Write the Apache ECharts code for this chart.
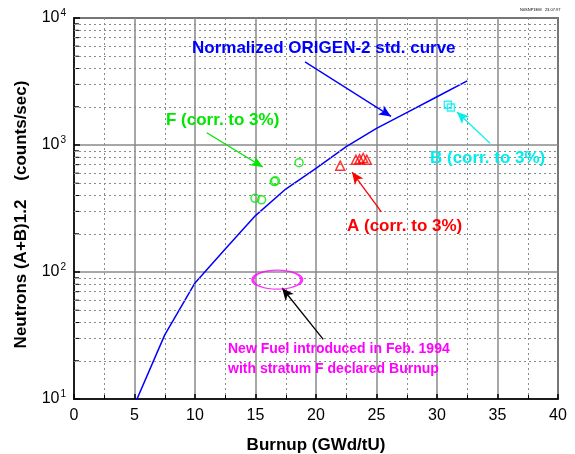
<!DOCTYPE html>
<html><head><meta charset="utf-8">
<script src="https://cdn.jsdelivr.net/npm/echarts@6/dist/echarts.min.js"></script>
<style>html,body{margin:0;padding:0;background:#fff}#c{width:575px;height:454px}</style>
</head><body><div id="c"></div>
<script>
// ---- data ----
const curveX = [5, 7.5, 10, 12.5, 15, 17.5, 20, 22.5, 25, 27.5, 30, 32.5];
const curveY = [9, 32, 82, 152, 278, 450, 655, 970, 1350, 1800, 2400, 3200];
const fX = [14.96, 15.5, 16.55, 16.65, 18.6];
const fY = [380, 370, 515, 522, 726];
const aX = [22.0, 23.3, 23.6, 23.9, 24.2];
const aY = [687, 765, 775, 790, 765];
const bX = [30.9, 31.15];
const bY = [2070, 1970];
const ellipseCenter = [16.8, 87];
const xTicks = [0, 5, 10, 15, 20, 25, 30, 35, 40];
const yDecades = [10, 100, 1000, 10000];
const yMinor = [20,30,40,50,60,70,80,90,200,300,400,500,600,700,800,900,2000,3000,4000,5000,6000,7000,8000,9000];

const FONT = '"Liberation Sans", Arial, sans-serif';
const BLUE = '#0000ff', GREEN = '#00e600', RED = '#ff0000', CYAN = '#00eeee', MAG = '#ff00ff';

const zip = (xs, ys) => xs.map((x, i) => [x, ys[i]]);

function arrow(from, to, color) {
  return [{coord: from, lineStyle: {color: color, width: 1.3, type: 'solid'}, itemStyle: {color: color}}, {coord: to}];
}

const chart = echarts.init(document.getElementById('c'), null, {renderer: 'canvas'});
const option = {
  animation: false,
  backgroundColor: '#fff',
  grid: {left: 74, right: 17, top: 18, bottom: 55, show: true, borderColor: '#000', borderWidth: 1.5,
         containLabel: false, outerBoundsMode: 'none'},
  xAxis: {
    type: 'value', min: xTicks[0], max: xTicks[xTicks.length - 1], interval: 5,
    name: 'Burnup (GWd/tU)', nameLocation: 'middle', nameGap: 38,
    nameTextStyle: {fontFamily: FONT, fontWeight: 'bold', fontSize: 17, color: '#000'},
    axisLine: {lineStyle: {color: '#000', width: 1.5}},
    axisTick: {inside: true, length: 5, lineStyle: {color: '#000', width: 1.5}},
    minorTick: {show: true, splitNumber: 2, length: 4, lineStyle: {color: '#000', width: 1}},
    axisLabel: {fontFamily: FONT, fontSize: 16, color: '#000', margin: 9},
    splitLine: {show: true, lineStyle: {color: '#8a8a8a', width: 1.5}},
    minorSplitLine: {show: true, lineStyle: {color: '#8a8a8a', width: 1, type: [2, 3]}}
  },
  yAxis: {
    type: 'log', logBase: 10, min: yDecades[0], max: yDecades[yDecades.length - 1],
    name: 'Neutrons (A+B)1.2    (counts/sec)', nameLocation: 'middle', nameGap: 44, nameRotate: 90,
    nameTextStyle: {fontFamily: FONT, fontWeight: 'bold', fontSize: 17, color: '#000', padding: [0, 12, 0, 0]},
    axisLine: {lineStyle: {color: '#000', width: 1.5}},
    axisTick: {inside: true, length: 6, lineStyle: {color: '#000', width: 1.5}},
    axisLabel: {
      margin: 8,
      formatter: v => '{b|10}{s|' + Math.round(Math.log10(v)) + '}',
      rich: {
        b: {fontFamily: FONT, fontSize: 16, color: '#000'},
        s: {fontFamily: FONT, fontSize: 10, color: '#000', verticalAlign: 'top', padding: [0, 0, 10, 1]}
      }
    },
    splitLine: {show: true, lineStyle: {color: '#8a8a8a', width: 1.5}}
  },
  series: [
    { // minor horizontal dotted grid lines
      type: 'line', data: [], z: 1, silent: true,
      markLine: {silent: true, symbol: ['none', 'none'], label: {show: false},
        lineStyle: {color: '#8a8a8a', width: 1, type: [2, 3]},
        data: yMinor.map(v => ({yAxis: v}))}
    },
    { // minor ticks on y axis
      type: 'custom', z: 3, silent: true,
      data: yMinor.map(v => [0, v]),
      renderItem: (params, api) => {
        const p = api.coord([api.value(0), api.value(1)]);
        return {type: 'line', shape: {x1: p[0], y1: p[1], x2: p[0] + 5, y2: p[1]}, style: {stroke: '#000', lineWidth: 1}};
      }
    },
    {
      type: 'line', name: 'curve', data: zip(curveX, curveY), symbol: 'none', clip: true, z: 4,
      lineStyle: {color: BLUE, width: 1.5}
    },
    {
      type: 'scatter', name: 'F', data: zip(fX, fY), symbol: 'circle', symbolSize: 8, z: 5,
      itemStyle: {color: 'rgba(0,0,0,0)', borderColor: GREEN, borderWidth: 1.5}
    },
    {
      type: 'scatter', name: 'A', data: zip(aX, aY), symbol: 'triangle', symbolSize: 9, z: 5,
      itemStyle: {color: 'rgba(0,0,0,0)', borderColor: RED, borderWidth: 1.5}
    },
    {
      type: 'scatter', name: 'B', data: zip(bX, bY), symbol: 'rect', symbolSize: 7, z: 5,
      itemStyle: {color: 'rgba(0,0,0,0)', borderColor: CYAN, borderWidth: 1.5}
    },
    {
      type: 'scatter', name: 'ellipse', data: [ellipseCenter], symbol: 'circle', symbolSize: [49, 19], z: 5,
      itemStyle: {color: 'rgba(0,0,0,0)', borderColor: MAG, borderWidth: 2}
    },
    { // annotation arrows
      type: 'line', data: [], z: 6, silent: true,
      markLine: {silent: true, symbol: ['none', 'arrow'], symbolSize: [8, 12], label: {show: false},
        data: [
          arrow([19.09, 4510], [26.2, 1680], BLUE),
          arrow([10.97, 1250], [15.6, 671], GREEN),
          arrow([25.4, 298], [22.98, 612], RED),
          arrow([34.4, 1030], [31.65, 1820], CYAN),
          arrow([20.6, 29.5], [17.2, 74.8], '#000')
        ]}
    }
  ],
  graphic: [
    {type: 'text', z: 100, x: 192, y: 48, style: {text: 'Normalized ORIGEN-2 std. curve', font: 'bold 17px ' + FONT, fill: BLUE, verticalAlign: 'middle'}},
    {type: 'text', z: 100, x: 166, y: 120, style: {text: 'F (corr. to 3%)', font: 'bold 17px ' + FONT, fill: GREEN, verticalAlign: 'middle'}},
    {type: 'text', z: 100, x: 430, y: 158, style: {text: 'B (corr. to 3%)', font: 'bold 17px ' + FONT, fill: CYAN, verticalAlign: 'middle'}},
    {type: 'text', z: 100, x: 347, y: 226, style: {text: 'A (corr. to 3%)', font: 'bold 17px ' + FONT, fill: RED, verticalAlign: 'middle'}},
    {type: 'text', z: 100, x: 228, y: 349, style: {text: 'New Fuel introduced in Feb. 1994', font: 'bold 14px ' + FONT, fill: MAG, verticalAlign: 'middle'}},
    {type: 'text', z: 100, x: 228, y: 369, style: {text: 'with stratum F declared Burnup', font: 'bold 14px ' + FONT, fill: MAG, verticalAlign: 'middle'}},
    {type: 'text', z: 100, x: 520, y: 10, style: {text: 'N0SNP1EM   23.07.97', font: '4px ' + FONT, fill: '#000', verticalAlign: 'middle'}}
  ]
};
chart.setOption(option);
</script>
</body></html>
